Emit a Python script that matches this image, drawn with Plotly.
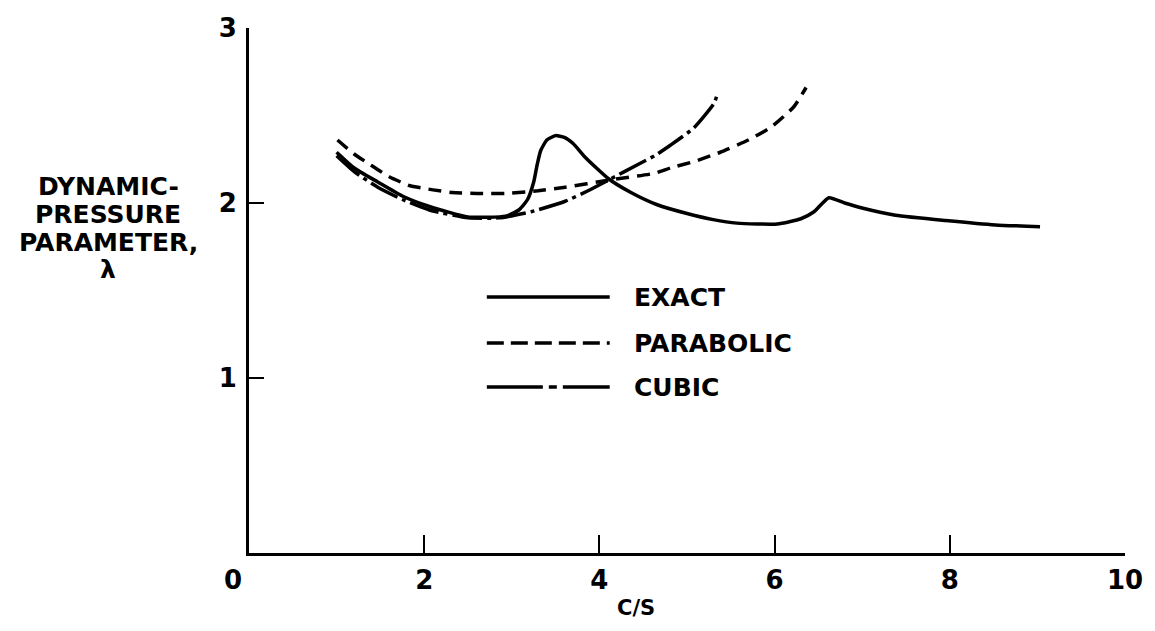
import plotly.graph_objects as go

# ---- data ----
exact_x = [1.0, 1.2, 1.47, 1.75, 2.06, 2.5, 2.93, 3.08, 3.18, 3.25, 3.29, 3.33, 3.40, 3.50,
           3.60, 3.70, 3.84, 4.10, 4.36, 4.66, 5.0, 5.3, 5.57, 6.03, 6.30, 6.45, 6.62, 6.80,
           7.01, 7.38, 7.95, 8.52, 9.03]
exact_y = [2.29, 2.20, 2.12, 2.04, 1.98, 1.92, 1.925, 1.96, 2.02, 2.12, 2.22, 2.30, 2.36, 2.385,
           2.375, 2.34, 2.26, 2.14, 2.06, 1.99, 1.94, 1.905, 1.885, 1.88, 1.91, 1.95, 2.03, 2.00,
           1.97, 1.93, 1.90, 1.875, 1.865]

parabolic_x = [1.01, 1.2, 1.38, 1.6, 1.83, 2.1, 2.32, 2.6, 2.93, 3.3, 3.61, 4.10, 4.63, 4.81,
               5.1, 5.38, 5.7, 5.95, 6.22, 6.36]
parabolic_y = [2.36, 2.28, 2.22, 2.15, 2.10, 2.075, 2.06, 2.055, 2.055, 2.07, 2.09, 2.13, 2.17,
               2.20, 2.24, 2.29, 2.36, 2.43, 2.55, 2.66]

cubic_x = [1.0, 1.2, 1.47, 1.75, 2.06, 2.5, 2.85, 3.22, 3.61, 3.87, 4.10, 4.44, 4.63, 4.81,
           5.08, 5.31, 5.35]
cubic_y = [2.27, 2.18, 2.09, 2.02, 1.96, 1.915, 1.915, 1.95, 2.01, 2.07, 2.13, 2.22, 2.27, 2.33,
           2.43, 2.57, 2.63]

series_names = ["EXACT", "PARABOLIC", "CUBIC"]

x_tick_vals = [2, 4, 6, 8, 10]
x_tick_text = ["2", "4", "6", "8", "10"]
origin_label = "0"
y_tick_vals = [1, 2, 3]
y_tick_text = ["1", "2", "3"]
x_title = "C/S"
y_title_lines = ["DYNAMIC-", "PRESSURE", "PARAMETER,", "λ"]

# ---- styling ----
FONT = "DejaVu Sans"
BLACK = "#000000"
LW = 3.5
dashes = ["solid", "13px,8px", "30px,5px,4px,5px"]
legend_dashes = ["solid", "17px,7px", "56px,6px,8px,6px,60px"]

fig = go.Figure()
for name, xs, ys, d in zip(series_names, [exact_x, parabolic_x, cubic_x],
                           [exact_y, parabolic_y, cubic_y], dashes):
    fig.add_trace(go.Scatter(x=xs, y=ys, mode="lines", name=name, showlegend=False,
                             line=dict(color=BLACK, width=LW, dash=d,
                                       shape="spline", smoothing=0.5)))

W, H = 1155, 631
L, R, T, B = 249, 22, 28, 78
pw, ph = W - L - R, H - T - B

def px2paper_x(px):
    return (px - L) / pw

def px2paper_y(py):
    return (H - B - py) / ph

# custom legend (long line samples like the reference)
legend_rows_py = [297, 343, 387]
shapes = []
annotations = []
for name, d, py in zip(series_names, legend_dashes, legend_rows_py):
    shapes.append(dict(type="line", xref="paper", yref="paper",
                       x0=px2paper_x(489), x1=px2paper_x(613),
                       y0=px2paper_y(py), y1=px2paper_y(py),
                       line=dict(color=BLACK, width=LW, dash=d)))
    annotations.append(dict(text=name, xref="paper", yref="paper",
                            x=px2paper_x(636), y=px2paper_y(py),
                            xanchor="left", yanchor="middle", showarrow=False,
                            font=dict(family=FONT, size=25, color=BLACK, weight="bold")))

# y-axis title lines
for line, py in zip(y_title_lines, [186, 214, 242, 269]):
    annotations.append(dict(text=line, xref="paper", yref="paper",
                            x=px2paper_x(107), y=px2paper_y(py),
                            xanchor="center", yanchor="middle", showarrow=False,
                            font=dict(family=FONT, size=25, color=BLACK, weight="bold")))

# x-axis title
annotations.append(dict(text=x_title, xref="paper", yref="paper",
                        x=px2paper_x(640), y=px2paper_y(608),
                        xanchor="center", yanchor="middle", showarrow=False,
                        font=dict(family=FONT, size=21, color=BLACK, weight="bold")))
# shared origin label
annotations.append(dict(text=origin_label, xref="paper", yref="paper",
                        x=px2paper_x(233), y=px2paper_y(580),
                        xanchor="center", yanchor="middle", showarrow=False,
                        font=dict(family=FONT, size=26, color=BLACK, weight="bold")))

fig.update_layout(
    width=W, height=H,
    margin=dict(l=L, r=R, t=T, b=B, pad=0),
    paper_bgcolor="white", plot_bgcolor="white",
    shapes=shapes, annotations=annotations,
    xaxis=dict(range=[0, 10], showgrid=False, zeroline=False,
               showline=True, linecolor=BLACK, linewidth=3,
               ticks="inside", ticklen=18, tickwidth=2, tickcolor=BLACK,
               tickvals=x_tick_vals, ticktext=x_tick_text,
               ticklabelstandoff=2,
               tickfont=dict(family=FONT, size=26, color=BLACK, weight="bold")),
    yaxis=dict(range=[0, 3], showgrid=False, zeroline=False,
               showline=True, linecolor=BLACK, linewidth=3,
               ticks="inside", ticklen=15, tickwidth=2, tickcolor=BLACK,
               tickvals=y_tick_vals, ticktext=y_tick_text,
               ticklabelstandoff=4,
               tickfont=dict(family=FONT, size=26, color=BLACK, weight="bold")),
)

fig.write_html("out.html")
